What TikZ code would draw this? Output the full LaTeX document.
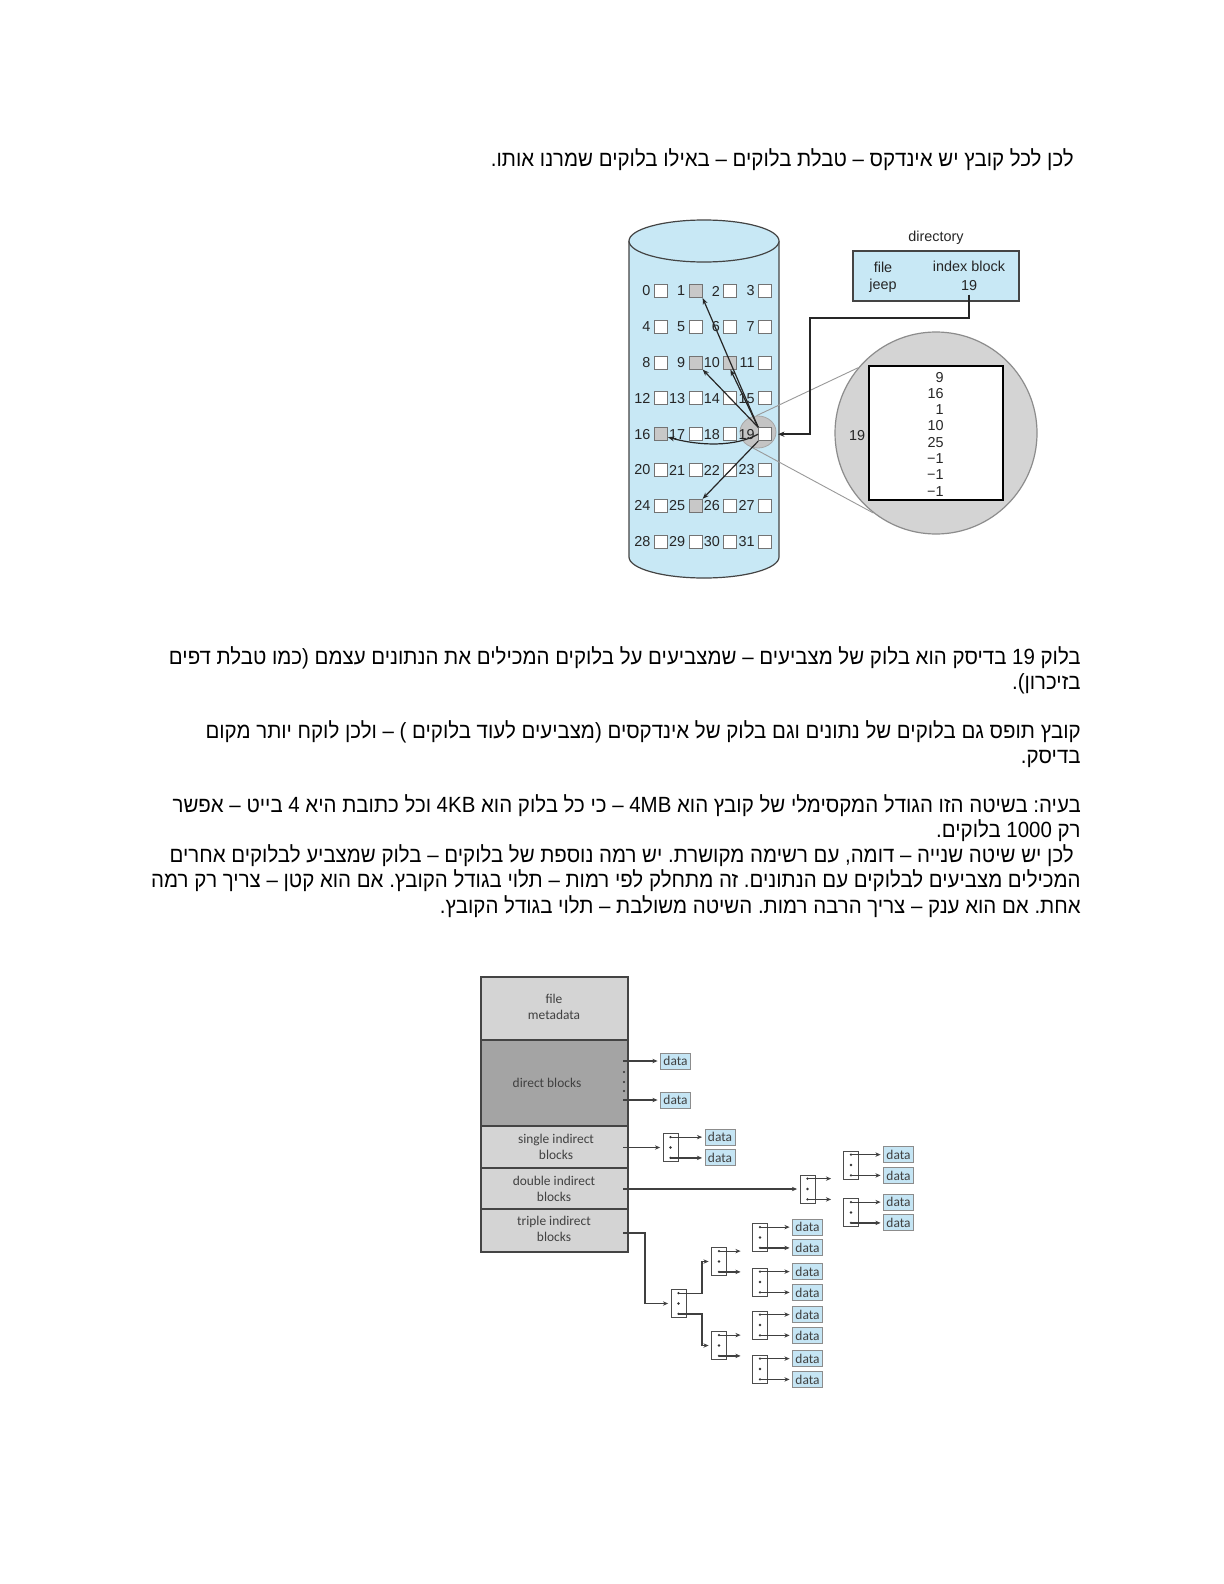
\documentclass[tikz,border=0pt]{standalone}
\usepackage{fontspec}
\setmainfont{Liberation Sans}
\newfontfamily\heb[Script=Hebrew,FakeStretch=0.93]{Liberation Sans}
\newfontfamily\bfont{Carlito}
\TeXXeTstate=1
\frenchspacing
\usetikzlibrary{arrows.meta,calc,shapes.geometric}
\definecolor{cylblue}{RGB}{200,232,245}
\definecolor{datablue}{RGB}{197,229,244}
\definecolor{lgray}{RGB}{212,212,212}
\definecolor{dgray}{RGB}{164,164,164}
\definecolor{circgray}{RGB}{212,212,212}
\definecolor{selgray}{RGB}{196,196,196}
\definecolor{usedgray}{RGB}{200,200,200}
\definecolor{linegray}{RGB}{68,68,68}
\begin{document}
\begin{tikzpicture}[x=0.5pt,y=-0.5pt,
  hebline/.style={anchor=base east, inner sep=0pt, font=\heb\fontsize{11}{13}\selectfont},
  dtxt/.style={inner sep=0pt, font=\fontsize{7.2}{8.6}\selectfont, text=black!85},
  dlbl/.style={dtxt, anchor=east},
  dsq/.style={draw=black!55, fill=white, line width=0.45pt, minimum size=6.5pt, inner sep=0pt},
  dsqused/.style={dsq, fill=usedgray},
  iarrow/.style={-{Stealth[length=3.2pt,width=2.4pt]}, line width=0.6pt, draw=black!85},
  conn/.style={line width=0.8pt, draw=black!85, -{Stealth[length=3.2pt,width=2.6pt]}},
  glink/.style={draw=black!40, line width=0.45pt},
  bsec/.style={draw=linegray, line width=0.6pt},
  btxt/.style={inner sep=0pt, align=center, font=\bfont\fontsize{6.7}{8}\selectfont, text=black!75},
  datab/.style={draw=black!45, fill=datablue, line width=0.5pt, minimum width=15pt, minimum height=8pt, inner sep=0pt, font=\bfont\fontsize{6.7}{8}\selectfont, text=black!75},
  iblk/.style={draw=black!70, fill=white, line width=0.5pt, minimum width=7.5pt, minimum height=14pt, inner sep=0pt,
    path picture={\fill[black!80] ([yshift=-1.8pt]path picture bounding box.north) circle[radius=0.65pt]
      (path picture bounding box.center) circle[radius=0.65pt]
      ([yshift=1.8pt]path picture bounding box.south) circle[radius=0.65pt];}},
  barrow/.style={-{Stealth[length=2.6pt,width=2.2pt]}, line width=0.6pt, draw=black!75, shorten >=1.2pt},
]
\useasboundingbox (0,0) rectangle (1224,1584);
\fill[white] (0,0) rectangle (1224,1584);

% ---------- Hebrew text ----------
\node[hebline] (t0) at (1074,166) {\beginR לכן לכל קובץ יש אינדקס – טבלת בלוקים – באילו בלוקים שמרנו אותו.\endR};
\node[hebline] (p1a) at (1081,664) {\beginR בלוק 19 בדיסק הוא בלוק של מצביעים – שמצביעים על בלוקים המכילים את הנתונים עצמם (כמו טבלת דפים\endR};
\node[hebline] (p1b) at (1081,689.3) {\beginR בזיכרון).\endR};
\node[hebline] (p2a) at (1081,738) {\beginR קובץ תופס גם בלוקים של נתונים וגם בלוק של אינדקסים (מצביעים לעוד בלוקים^^^^00a0) – ולכן לוקח יותר מקום\endR};
\node[hebline] (p2b) at (1081,763.3) {\beginR בדיסק.\endR};
\node[hebline] (p3a) at (1081,812) {\beginR בעיה: בשיטה הזו הגודל המקסימלי של קובץ הוא 4MB – כי כל בלוק הוא 4KB וכל כתובת היא 4 בייט – אפשר\endR};
\node[hebline] (p3b) at (1081,837.3) {\beginR רק 1000 בלוקים.\endR};
\node[hebline] (p3c) at (1074,862.6) {\beginR לכן יש שיטה שנייה – דומה, עם רשימה מקושרת. יש רמה נוספת של בלוקים – בלוק שמצביע לבלוקים אחרים\endR};
\node[hebline] (p3d) at (1081,887.9) {\beginR המכילים מצביעים לבלוקים עם הנתונים. זה מתחלק לפי רמות – תלוי בגודל הקובץ. אם הוא קטן – צריך רק רמה\endR};
\node[hebline] (p3e) at (1081,913.2) {\beginR אחת. אם הוא ענק – צריך הרבה רמות. השיטה משולבת – תלוי בגודל הקובץ.\endR};

% ---------- disk cylinder ----------
\path[fill=cylblue,draw=linegray,line width=0.6pt] (629,241) -- (629,557)
  arc[start angle=180,end angle=360,x radius=37.5pt,y radius=10.5pt] -- (779,241);
\draw[fill=cylblue,draw=linegray,line width=0.6pt] (704,241) ellipse[x radius=37.5pt,y radius=10.5pt];

\node[ellipse, draw=black!35, fill=selgray, line width=0.4pt, minimum width=18pt, minimum height=16pt, inner sep=0pt] (hl) at (758,432) {};
\node[circle, draw=black!45, fill=circgray, line width=0.6pt, minimum size=101pt, inner sep=0pt] (bc) at (936,433) {};
\draw[glink] (hl.95) -- (bc.140);
\draw[glink] (hl.250) -- (bc.232);

\foreach \r in {0,...,7}{
  \foreach \c in {0,...,3}{
    \pgfmathtruncatemacro{\n}{4*\r+\c}
    \node[dsq] (b\n) at ({661+34.7*\c},{291+35.8*\r}) {};
    \node[dlbl] (l\n) at ([xshift=-1.6pt]b\n.west) {\n};
  }
}
\foreach \k in {1,9,10,16,25} \node[dsqused] (u\k) at (b\k) {};

\draw[iarrow] (b19.north west) -- (b1.south east);
\draw[iarrow] (b19.north west) -- (b9.south east);
\draw[iarrow] (b19.north west) -- (b10.south);
\draw[iarrow] (b19.west) .. controls (735,447) and (700,446) .. ([yshift=-1.5pt]b16.east);
\draw[iarrow] (b19.south west) -- (b25.north east);

% index block zoom
\node[draw=black, line width=1pt, fill=white, minimum width=67pt, minimum height=67pt, inner sep=0pt] (ib) at (936,433) {};
\foreach \v [count=\i from 0] in {9,16,1,10,25,−1,−1,−1}
  \node[dtxt, anchor=base east] (v\i) at (944,{382+16.3*\i}) {\v};
\node[dtxt, anchor=base] (bl19) at (857,440) {19};

% directory
\node[draw=linegray, line width=0.9pt, fill=cylblue, minimum width=83pt, minimum height=25pt, inner sep=0pt] (dir) at (936,276) {};
\node[dtxt, anchor=base] (dirl) at (936,241) {directory};
\node[dtxt, anchor=base] (dfile) at (883,272) {file};
\node[dtxt, anchor=base] (djeep) at (883,289) {jeep};
\node[dtxt, anchor=base] (dib) at (969,271) {index block};
\node[dtxt, anchor=base] (d19) at (969,290) {19};
\coordinate (bendA) at (810,318);
\draw[conn] ([yshift=-2pt]d19.south) |- (bendA) |- ([xshift=3pt]b19.east);

% ---------- inode diagram ----------
\draw[bsec, fill=lgray] (481,977) rectangle (628,1040);
\draw[bsec, fill=dgray] (481,1040) rectangle (628,1126);
\draw[bsec, fill=lgray] (481,1126) rectangle (628,1168);
\draw[bsec, fill=lgray] (481,1168) rectangle (628,1209);
\draw[bsec, fill=lgray] (481,1209) rectangle (628,1252);
\node[btxt] (fm) at (554,1007) {file\\metadata};
\node[btxt] (dbk) at (547,1083) {direct blocks};
\node[btxt] (sib) at (556,1147) {single indirect\\blocks};
\node[btxt] (dibk) at (554,1188.5) {double indirect\\blocks};
\node[btxt] (tib) at (554,1228.5) {triple indirect\\blocks};
\foreach \yy in {1072,1082,1091} \fill[black!80] (624,\yy) circle[radius=0.6pt];

% data boxes
\node[datab] (d1) at (675.5,1061) {data};
\node[datab] (d2) at (675.5,1100) {data};
\node[datab] (s1) at (720,1137.1) {data};
\node[datab] (s2) at (720,1157.9) {data};
\node[datab] (dd1) at (898.5,1154.6) {data};
\node[datab] (dd2) at (898.5,1175.4) {data};
\node[datab] (dd3) at (898.5,1202.1) {data};
\node[datab] (dd4) at (898.5,1222.9) {data};
\foreach \yy [count=\i] in {1227.1,1247.9,1271.6,1292.4,1314.6,1335.4,1358.6,1379.4}
  \node[datab] (tt\i) at (807.5,\yy) {data};

% index blocks
\node[iblk] (S) at (670.5,1147.5) {};
\node[iblk] (D) at (807.5,1189) {};
\node[iblk] (DA) at (851,1165) {};
\node[iblk] (DB) at (851,1212.5) {};
\node[iblk] (T) at (678.5,1303.5) {};
\node[iblk] (TA) at (719,1261.5) {};
\node[iblk] (TB) at (719,1345.5) {};
\node[iblk] (TC1) at (760,1237.5) {};
\node[iblk] (TC2) at (760,1282) {};
\node[iblk] (TC3) at (760,1325) {};
\node[iblk] (TC4) at (760,1369) {};

% connectors
\coordinate (dA) at (623,1061);
\coordinate (dB) at (623,1100);
\draw[barrow] (dA) -- (d1.west);
\draw[barrow] (dB) -- (d2.west);
\coordinate (sA) at (623,1147.5);
\draw[barrow] (sA) -- (S.west);
\draw[barrow] ([yshift=5.2pt]S.center) -- (s1.west);
\draw[barrow] ([yshift=-5.2pt]S.center) -- (s2.west);

\coordinate (dbA) at (623,1189);
\draw[barrow] (dbA) -- (D.west);
\draw[barrow] ([yshift=5.2pt]D.center) -- ++(26,0);
\draw[barrow] ([yshift=-5.2pt]D.center) -- ++(26,0);
\draw[barrow] ([yshift=5.2pt]DA.center) -- (dd1.west);
\draw[barrow] ([yshift=-5.2pt]DA.center) -- (dd2.west);
\draw[barrow] ([yshift=5.2pt]DB.center) -- (dd3.west);
\draw[barrow] ([yshift=-5.2pt]DB.center) -- (dd4.west);

\coordinate (tA) at (623,1233);
\draw[barrow] (tA) -- ++(22,0) |- (T.west);
\draw[barrow] ([yshift=5.2pt]T.center) -- ++(23.5,0) |- (TA.west);
\draw[barrow] ([yshift=-5.2pt]T.center) -- ++(23.5,0) |- (TB.west);
\draw[barrow] ([yshift=5.2pt]TA.center) -- ++(24,0);
\draw[barrow] ([yshift=-5.2pt]TA.center) -- ++(24,0);
\draw[barrow] ([yshift=5.2pt]TB.center) -- ++(24,0);
\draw[barrow] ([yshift=-5.2pt]TB.center) -- ++(24,0);
\draw[barrow] ([yshift=5.2pt]TC1.center) -- (tt1.west);
\draw[barrow] ([yshift=-5.2pt]TC1.center) -- (tt2.west);
\draw[barrow] ([yshift=5.2pt]TC2.center) -- (tt3.west);
\draw[barrow] ([yshift=-5.2pt]TC2.center) -- (tt4.west);
\draw[barrow] ([yshift=5.2pt]TC3.center) -- (tt5.west);
\draw[barrow] ([yshift=-5.2pt]TC3.center) -- (tt6.west);
\draw[barrow] ([yshift=5.2pt]TC4.center) -- (tt7.west);
\draw[barrow] ([yshift=-5.2pt]TC4.center) -- (tt8.west);
\end{tikzpicture}
\end{document}
